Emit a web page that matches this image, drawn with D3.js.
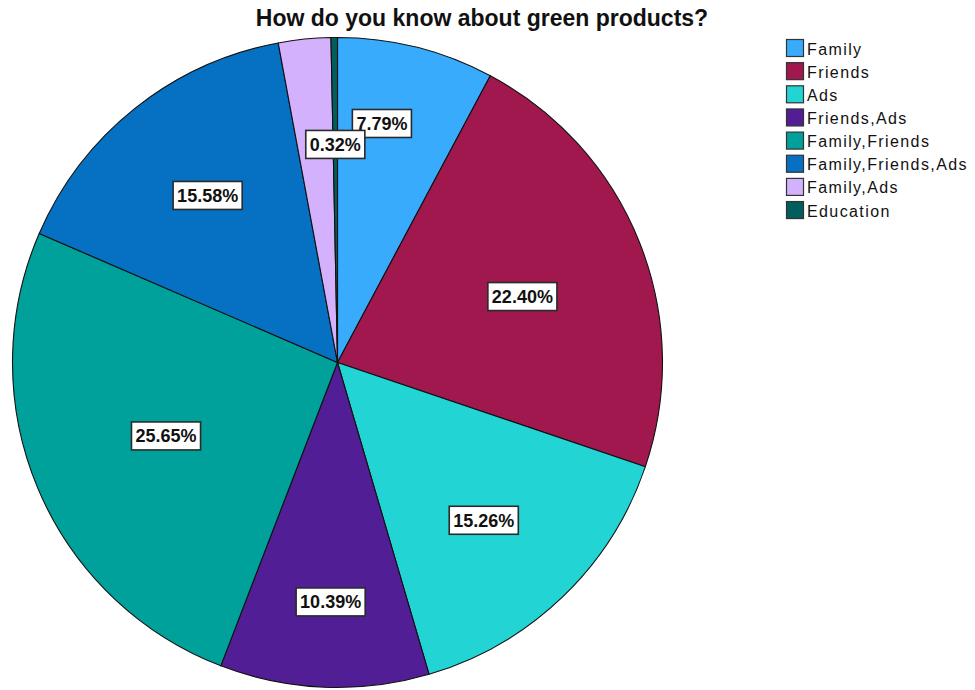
<!DOCTYPE html>
<html>
<head>
<meta charset="utf-8">
<script src="https://cdn.jsdelivr.net/npm/d3@7"></script>
<style>
  html, body { margin: 0; padding: 0; background: #ffffff; }
  svg { display: block; }
</style>
</head>
<body>
<svg id="chart" width="975" height="690"></svg>
<script>
// Survey answers: where respondents learnt about green products
const categories = ["Family", "Friends", "Ads", "Friends,Ads", "Family,Friends",
                    "Family,Friends,Ads", "Family,Ads", "Education"];
const percents = [7.79, 22.40, 15.26, 10.39, 25.65, 15.58, 2.60, 0.32];
const shownLabels = ["7.79%", "22.40%", "15.26%", "10.39%", "25.65%", "15.58%", null, "0.32%"];
const colors = ["#38abfd", "#a1184e", "#22d4d4", "#521e95", "#00a09b",
                "#0671c2", "#d3b1fc", "#005f5c"];

// label placement per slice: [fraction of radius, angular shift in degrees]
const labelLayout = [[0.748, -3.5], [0.604, 2], [0.662, 1], [0.737, -0.7],
                     [0.574, -0.4], [0.651, 0.7], [0.65, 0], [0.671, 0]];

const title = "How do you know about green products?";

const svg = d3.select("#chart");
const cx = 337.5, cy = 362.5, R = 325;

const data = categories.map((c, i) => ({
  name: c, value: percents[i], label: shownLabels[i], color: colors[i], layout: labelLayout[i]
}));

const pie = d3.pie().value(d => d.value).sort(null).startAngle(0).endAngle(2 * Math.PI);
const arcs = pie(data);
const arc = d3.arc().innerRadius(0).outerRadius(R);

const g = svg.append("g").attr("transform", `translate(${cx},${cy})`);

g.selectAll("path.slice")
  .data(arcs)
  .enter().append("path")
  .attr("class", "slice")
  .attr("d", arc)
  .attr("fill", d => d.data.color)
  .attr("stroke", "#111")
  .attr("stroke-width", 1.1)
  .attr("stroke-linejoin", "round");

// value labels in white boxes
const labelFont = "bold 18px 'Liberation Sans', Arial, sans-serif";
const lbl = g.selectAll("g.lbl")
  .data(arcs.filter(d => d.data.label))
  .enter().append("g")
  .attr("class", "lbl")
  .attr("transform", d => {
    const a = (d.startAngle + d.endAngle) / 2 + d.data.layout[1] * Math.PI / 180;
    const r = d.data.layout[0] * R;
    return `translate(${r * Math.sin(a)},${-r * Math.cos(a)})`;
  });

lbl.each(function(d) {
  const sel = d3.select(this);
  const t = sel.append("text")
    .attr("text-anchor", "middle")
    .attr("dy", "0.35em")
    .style("font", labelFont)
    .attr("fill", "#111")
    .text(d.data.label);
  const bb = t.node().getBBox();
  const w = bb.width + 8, h = 28;
  sel.insert("rect", "text")
    .attr("x", -w / 2)
    .attr("y", -h / 2)
    .attr("width", w)
    .attr("height", h)
    .attr("fill", "#ffffff")
    .attr("stroke", "#2a2a2a")
    .attr("stroke-width", 1.6);
});

// title
svg.append("text")
  .attr("x", 482)
  .attr("y", 26)
  .attr("text-anchor", "middle")
  .style("font", "bold 23px 'Liberation Sans', Arial, sans-serif")
  .attr("fill", "#111")
  .text(title);

// legend
const legend = svg.append("g").attr("transform", "translate(786,39)");
const rowH = 23.15;
const rows = legend.selectAll("g.row")
  .data(data)
  .enter().append("g")
  .attr("class", "row")
  .attr("transform", (d, i) => `translate(0,${i * rowH})`);

rows.append("rect")
  .attr("x", 0.5).attr("y", 0.5)
  .attr("width", 17).attr("height", 17)
  .attr("fill", d => d.color)
  .attr("stroke", "#333")
  .attr("stroke-width", 1.2);

rows.append("text")
  .attr("x", 21)
  .attr("y", 15.5)
  .style("font", "16px 'Liberation Sans', Arial, sans-serif")
  .style("letter-spacing", "1.4px")
  .attr("fill", "#111")
  .text(d => d.name);
</script>
</body>
</html>
